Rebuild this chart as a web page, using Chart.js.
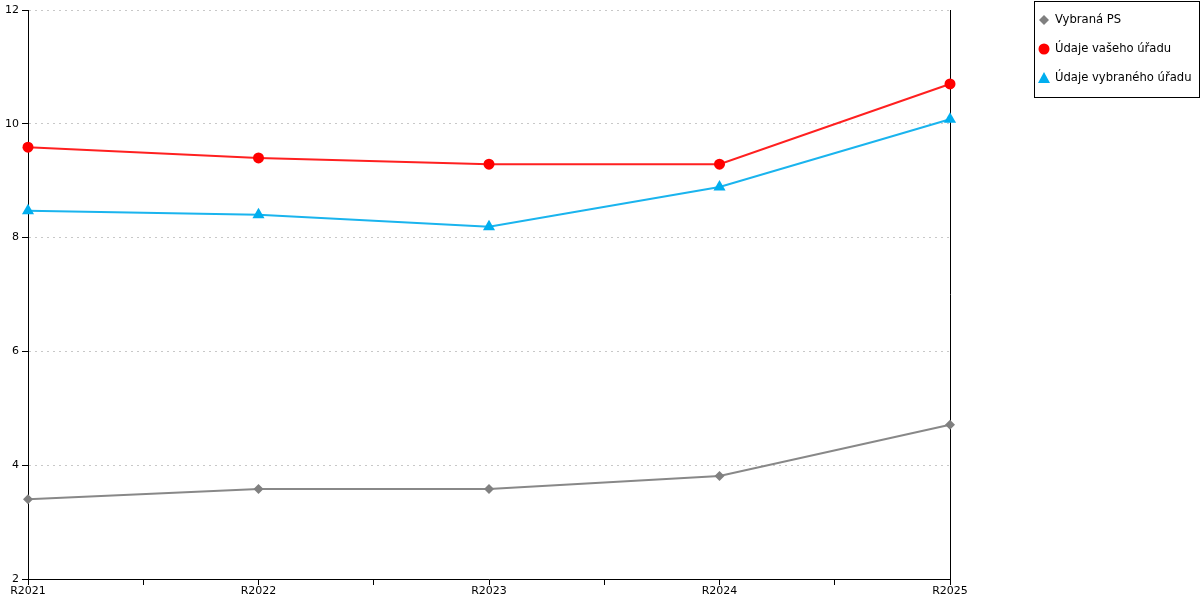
<!DOCTYPE html>
<html>
<head>
<meta charset="utf-8">
<script src="https://cdn.jsdelivr.net/npm/chart.js@4"></script>
<style>
  html,body{margin:0;padding:0;background:#fff;}
  #wrap{width:1200px;height:600px;position:relative;}
</style>
</head>
<body>
<div id="wrap"><canvas id="main-chart"></canvas></div>
<script>
const categories=['R2021','R2022','R2023','R2024','R2025'];
const seriesNames=['Vybraná PS','Údaje vašeho úřadu','Údaje vybraného úřadu'];
const psValues=[3.4,3.58,3.58,3.81,4.71];
const yourOffice=[9.59,9.4,9.29,9.29,10.7];
const selectedOffice=[8.47,8.4,8.19,8.89,10.08];
const yTicks=[2,4,6,8,10,12];

const FONT='"DejaVu Sans", Verdana, sans-serif';

function toPoints(values){
    return values.map((v,i)=>({x:i,y:v}));
}

// right border line of the plot area
const rightBorder={
    id:'rightBorder',
    beforeDatasetsDraw(chart){
        const {ctx,chartArea}=chart;
        ctx.save();
        ctx.strokeStyle='#000';
        ctx.lineWidth=1;
        ctx.beginPath();
        ctx.moveTo(Math.round(chartArea.right)+0.5,chartArea.top);
        ctx.lineTo(Math.round(chartArea.right)+0.5,chartArea.bottom);
        ctx.stroke();
        ctx.restore();
    }
};

// boxed legend on the right side
const boxLegend={
    id:'boxLegend',
    afterDraw(chart){
        const ctx=chart.ctx;
        const x0=1034.5, y0=1.5, w=165, h=96;
        ctx.save();
        ctx.fillStyle='#fff';
        ctx.fillRect(x0,y0,w,h);
        ctx.strokeStyle='#000';
        ctx.lineWidth=1;
        ctx.strokeRect(x0,y0,w,h);
        ctx.font='11.6px '+FONT;
        ctx.textBaseline='middle';
        chart.data.datasets.forEach((ds,i)=>{
            const cy=20+i*29;
            const cx=1044;
            ctx.fillStyle=ds.pointBackgroundColor;
            ctx.beginPath();
            if(ds.pointStyle==='rectRot'){
                ctx.moveTo(cx,cy-5);ctx.lineTo(cx+5,cy);ctx.lineTo(cx,cy+5);ctx.lineTo(cx-5,cy);
            }else if(ds.pointStyle==='triangle'){
                ctx.moveTo(cx,cy-6);ctx.lineTo(cx+6,cy+5);ctx.lineTo(cx-6,cy+5);
            }else{
                ctx.arc(cx,cy,5.5,0,Math.PI*2);
            }
            ctx.closePath();
            ctx.fill();
            ctx.fillStyle='#000';
            ctx.fillText(ds.label,1055,cy);
        });
        ctx.restore();
    }
};

function createChart(){
    const ctx=document.getElementById('main-chart').getContext('2d');
    new Chart(ctx,{
        type:'line',
        data:{
            datasets:[
                {
                    label:seriesNames[0],
                    data:toPoints(psValues),
                    borderColor:'#888888',
                    backgroundColor:'#808080',
                    pointBackgroundColor:'#808080',
                    pointBorderColor:'#808080',
                    pointStyle:'rectRot',
                    pointRadius:5,
                    borderWidth:2,
                    pointBorderWidth:0,
                    tension:0
                },
                {
                    label:seriesNames[1],
                    data:toPoints(yourOffice),
                    borderColor:'#ff2020',
                    backgroundColor:'#ff0000',
                    pointBackgroundColor:'#ff0000',
                    pointBorderColor:'#ff0000',
                    pointStyle:'circle',
                    pointRadius:5.5,
                    borderWidth:2,
                    pointBorderWidth:0,
                    tension:0
                },
                {
                    label:seriesNames[2],
                    data:toPoints(selectedOffice),
                    borderColor:'#1ab4ee',
                    backgroundColor:'#00aeef',
                    pointBackgroundColor:'#00aeef',
                    pointBorderColor:'#00aeef',
                    pointStyle:'triangle',
                    pointRadius:7,
                    borderWidth:2,
                    pointBorderWidth:0,
                    tension:0
                }
            ]
        },
        options:{
            responsive:true,
            maintainAspectRatio:false,
            animation:false,
            clip:false,
            layout:{padding:{top:10,right:250,left:0,bottom:0}},
            plugins:{
                legend:{display:false},
                tooltip:{enabled:false}
            },
            scales:{
                x:{
                    type:'linear',
                    min:0,
                    max:categories.length-1,
                    afterBuildTicks(scale){
                        const t=[];
                        for(let v=0;v<=categories.length-1;v+=0.5){t.push({value:v});}
                        scale.ticks=t;
                    },
                    afterFit(scale){scale.height=21;},
                    ticks:{
                        autoSkip:false,
                        maxRotation:0,
                        padding:0,
                        color:'#000',
                        font:{family:FONT,size:11},
                        callback:(v)=>Number.isInteger(v)?categories[v]:''
                    },
                    grid:{
                        drawOnChartArea:false,
                        drawTicks:true,
                        tickLength:6,
                        tickColor:'#000'
                    },
                    border:{color:'#000',width:1}
                },
                y:{
                    min:2,
                    max:12,
                    afterBuildTicks(scale){
                        scale.ticks=yTicks.map(v=>({value:v}));
                    },
                    afterFit(scale){scale.width=28;},
                    ticks:{
                        padding:3,
                        color:'#000',
                        font:{family:FONT,size:11}
                    },
                    grid:{
                        color:'#c8c8c8',
                        tickColor:'#000',
                        tickLength:6,
                        lineWidth:1
                    },
                    border:{color:'#000',width:1,dash:[2,4]}
                }
            }
        },
        plugins:[rightBorder,boxLegend]
    });
}

createChart();
</script>
</body>
</html>
